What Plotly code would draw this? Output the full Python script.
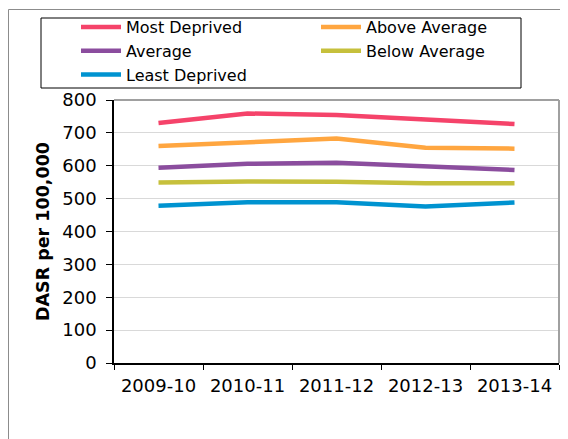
import plotly.graph_objects as go

years = ["2009-10", "2010-11", "2011-12", "2012-13", "2013-14"]
series_names = ["Most Deprived", "Above Average", "Average", "Below Average", "Least Deprived"]
most_deprived = [730, 759, 754, 741, 727]
above_average = [660, 673, 683, 655, 652]
average = [594, 606, 609, 597, 587]
below_average = [549, 552, 551, 547, 547]
least_deprived = [478, 489, 489, 476, 488]
y_ticks = [0, 100, 200, 300, 400, 500, 600, 700, 800]

colors = ["#f5436a", "#ffa640", "#8b4d9e", "#c6c03c", "#0093d0"]
values = [most_deprived, above_average, average, below_average, least_deprived]
legend_ids = ["legend", "legend2", "legend", "legend2", "legend"]

# page has an 8px body margin; figure coordinates = page coordinates - 8
OFF = 8
W, H = 568 - OFF, 439 - OFF
L, R, T, B = 114 - OFF, 568 - 559, 100 - OFF, 439 - 363
pw, ph = W - L - R, H - T - B

def px_x(p):
    return (p - OFF - L) / pw

def px_y(p):
    return (H - B - (p - OFF)) / ph

fig = go.Figure()
for name, vals, col, lg in zip(series_names, values, colors, legend_ids):
    fig.add_trace(go.Scatter(x=years, y=vals, name=name, mode="lines", legend=lg,
                             line=dict(color=col, width=4.5)))

shapes = [
    # outer chart border
    dict(type="rect", xref="paper", yref="paper", x0=px_x(8.5), x1=px_x(620), y0=px_y(480), y1=px_y(9.5),
         line=dict(color="#8c8c8c", width=1), layer="below"),
    # legend box
    dict(type="rect", xref="paper", yref="paper", x0=px_x(41), x1=px_x(521), y0=px_y(88), y1=px_y(18),
         line=dict(color="black", width=1), layer="below"),
    # plot area top and right border
    dict(type="line", xref="paper", yref="paper", x0=0, x1=1, y0=1, y1=1, line=dict(color="#a0a0a0", width=2)),
    dict(type="line", xref="paper", yref="paper", x0=1, x1=1, y0=0, y1=1, line=dict(color="#a0a0a0", width=2)),
]

FONT = "DejaVu Sans"
leg_common = dict(orientation="v", xanchor="left", yanchor="top", bgcolor="rgba(0,0,0,0)",
                  borderwidth=0, font=dict(family=FONT, size=16, color="black"),
                  tracegroupgap=0, itemwidth=40, traceorder="normal")

fig.update_layout(
    width=W, height=H,
    margin=dict(l=L, r=R, t=T, b=B, autoexpand=False),
    paper_bgcolor="white", plot_bgcolor="white",
    font=dict(family=FONT, size=18, color="black"),
    shapes=shapes,
    showlegend=True,
    legend=dict(x=px_x(76), y=px_y(10), **leg_common),
    legend2=dict(x=px_x(316), y=px_y(10), **leg_common),
    xaxis=dict(type="category", range=[-0.5, 4.5], showline=True, linecolor="black", linewidth=1.5,
               ticks="outside", tickson="boundaries", ticklen=5, tickcolor="black",
               showgrid=False, tickfont=dict(size=18), ticklabelstandoff=6),
    yaxis=dict(range=[0, 800], tickvals=y_ticks, showline=True, linecolor="black", linewidth=1.5,
               ticks="outside", ticklen=6, tickcolor="black",
               showgrid=True, gridcolor="#d9d9d9", gridwidth=1, zeroline=False,
               tickfont=dict(size=18), ticklabelstandoff=6,
               title=dict(text="<b>DASR per 100,000</b>", font=dict(size=17.5), standoff=8)),
)

fig.write_html("out.html")
